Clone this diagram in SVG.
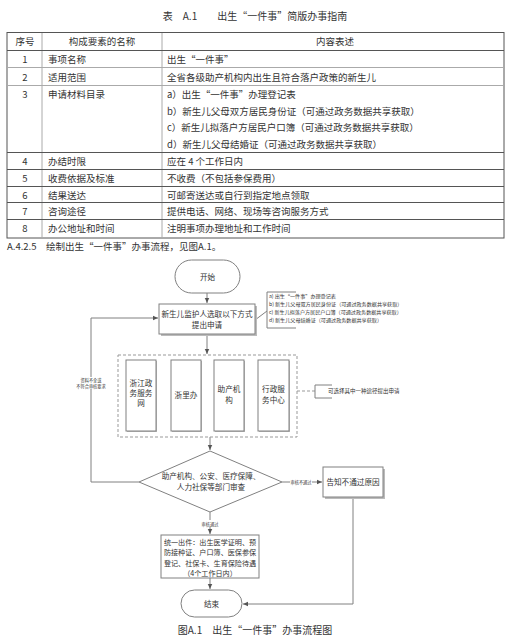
<svg xmlns="http://www.w3.org/2000/svg" width="509" height="637" viewBox="0 0 509 637">
<defs>
<marker id="arr" viewBox="0 0 10 10" refX="9" refY="5" markerWidth="6" markerHeight="6" orient="auto"><path d="M0,1 L9,5 L0,9 z" fill="#555"/></marker>
</defs>
<style>
text{font-family:"Noto Sans CJK SC","Liberation Sans",sans-serif;fill:#333;}
.t{font-size:9.5px;}
.c{text-anchor:middle;}
.tl{stroke:#555;stroke-width:1;fill:none;}
.tg{stroke:#aaa;stroke-width:1;fill:none;}
.box{fill:#fff;stroke:#808080;stroke-width:1;}
.sh{fill:#bbb;}
.ln{stroke:#808080;stroke-width:1;fill:none;}
.dash{stroke:#999;stroke-width:1;fill:none;stroke-dasharray:3,2;}
.n{font-size:7.6px;}
.s{font-size:7.1px;}
.tiny{font-size:5.1px;}
.lb{font-size:4.2px;}
</style>
<rect width="509" height="637" fill="#fff"/>
<g id="table">
<text x="255" y="20" class="c" style="font-size:10px" xml:space="preserve">表　A.1　　出生“一件事”简版办事指南</text>
<rect x="7" y="32.5" width="497" height="205.5" class="tl" stroke-width="1.5"/>
<line x1="42" y1="33" x2="42" y2="238" class="tg" stroke-width="1.5"/>
<line x1="162" y1="33" x2="162" y2="238" class="tg" stroke-width="1.5"/>
<line x1="7" y1="50.5" x2="504" y2="50.5" class="tl" stroke-width="1.5"/>
<line x1="7" y1="67.5" x2="504" y2="67.5" class="tg"/>
<line x1="7" y1="85.5" x2="504" y2="85.5" class="tg"/>
<line x1="7" y1="152.5" x2="504" y2="152.5" class="tl"/>
<line x1="7" y1="169.5" x2="504" y2="169.5" class="tl"/>
<line x1="7" y1="186.5" x2="504" y2="186.5" class="tl"/>
<line x1="7" y1="202.5" x2="504" y2="202.5" class="tl"/>
<line x1="7" y1="219.5" x2="504" y2="219.5" class="tl"/>
<text x="25" y="45" class="t c">序号</text>
<text x="102" y="45" class="t c">构成要素的名称</text>
<text x="335" y="45" class="t c">内容表述</text>
<text x="25" y="63" class="t c">1</text><text x="48" y="63" class="t">事项名称</text><text x="167" y="63" class="t">出生“一件事”</text>
<text x="25" y="81" class="t c">2</text><text x="48" y="81" class="t">适用范围</text><text x="167" y="81" class="t">全省各级助产机构内出生且符合落户政策的新生儿</text>
<text x="25" y="98" class="t c">3</text><text x="48" y="98" class="t">申请材料目录</text>
<text x="167" y="98" class="t">a）出生“一件事”办理登记表</text>
<text x="167" y="114.5" class="t">b）新生儿父母双方居民身份证（可通过政务数据共享获取）</text>
<text x="167" y="131" class="t">c）新生儿拟落户方居民户口簿（可通过政务数据共享获取）</text>
<text x="167" y="147.5" class="t">d）新生儿父母结婚证（可通过政务数据共享获取）</text>
<text x="25" y="165" class="t c">4</text><text x="48" y="165" class="t">办结时限</text><text x="167" y="165" class="t">应在 4 个工作日内</text>
<text x="25" y="182" class="t c">5</text><text x="48" y="182" class="t">收费依据及标准</text><text x="167" y="182" class="t">不收费（不包括参保费用）</text>
<text x="25" y="198.5" class="t c">6</text><text x="48" y="198.5" class="t">结果送达</text><text x="167" y="198.5" class="t">可邮寄送达或自行到指定地点领取</text>
<text x="25" y="215" class="t c">7</text><text x="48" y="215" class="t">咨询途径</text><text x="167" y="215" class="t">提供电话、网络、现场等咨询服务方式</text>
<text x="25" y="232" class="t c">8</text><text x="48" y="232" class="t">办公地址和时间</text><text x="167" y="232" class="t">注明事项办理地址和工作时间</text>
</g>
<text x="7" y="250" class="t" xml:space="preserve">A.4.2.5　绘制出生“一件事”办事流程，见图A.1。</text>
<g id="connectors">
<line x1="207" y1="293" x2="207" y2="303" class="ln" marker-end="url(#arr)"/>
<line x1="207" y1="334" x2="207" y2="354" class="ln" marker-end="url(#arr)"/>
<line x1="210" y1="437" x2="210" y2="450" class="ln" marker-end="url(#arr)"/>
<polyline points="139,482 91,482 91,318 158,318" class="ln" marker-end="url(#arr)"/>
<line x1="282" y1="482" x2="322" y2="482" class="ln" marker-end="url(#arr)"/>
<line x1="210" y1="512" x2="210" y2="534" class="ln" marker-end="url(#arr)"/>
<line x1="210" y1="578" x2="210" y2="589" class="ln" marker-end="url(#arr)"/>
<polyline points="353,497 353,604 243,604" class="ln" marker-end="url(#arr)"/>
<line x1="255" y1="320" x2="267" y2="311" class="ln"/>
<line x1="297" y1="391" x2="315" y2="391" class="dash"/>
<rect x="72" y="377" width="40" height="12" fill="#fff"/>
<text x="91" y="382" class="lb c">资料不全或</text>
<text x="91" y="387.5" class="lb c">不符合审核要求</text>
<rect x="290" y="478" width="22" height="7" fill="#fff"/>
<text x="301" y="483.5" class="lb c">审核不通过</text>
<rect x="200" y="520" width="20" height="7" fill="#fff"/>
<text x="210" y="525.5" class="lb c">审核通过</text>
</g>
<g id="start">
<rect x="175" y="260" width="65" height="33" rx="16.5" class="box"/>
<text x="207.5" y="279.5" class="n c">开始</text>
</g>
<g id="apply">
<rect x="161" y="306" width="96" height="30" class="sh"/>
<rect x="159" y="304" width="96" height="30" class="box"/>
<text x="207" y="317" class="n c">新生儿监护人选取以下方式</text>
<text x="207" y="328" class="n c">提出申请</text>
</g>
<g id="materials">
<path d="M296,292 L267,292 L267,328 L296,328" class="ln" stroke="#999" stroke-width="1.2"/>
<text x="269" y="298" class="tiny">a) 出生“一件事”办理登记表</text>
<text x="269" y="306" class="tiny">b) 新生儿父母双方居民身份证（可通过政务数据共享获取）</text>
<text x="269" y="314" class="tiny">c) 新生儿拟落户方居民户口簿（可通过政务数据共享获取）</text>
<text x="269" y="322" class="tiny">d) 新生儿父母结婚证（可通过政务数据共享获取）</text>
</g>
<g id="channels">
<rect x="118" y="355" width="179" height="82" class="dash"/>
<g id="zjzwfw">
<rect x="127" y="361" width="30" height="71" class="sh"/>
<rect x="126" y="360" width="30" height="71" class="box"/>
<text x="141" y="386" class="n c">浙江政</text><text x="141" y="396" class="n c">务服务</text><text x="141" y="406" class="n c">网</text>
</g>
<g id="zlb">
<rect x="172" y="361" width="30" height="71" class="sh"/>
<rect x="171" y="360" width="30" height="71" class="box"/>
<text x="186" y="398" class="n c">浙里办</text>
</g>
<g id="hospital">
<rect x="215" y="361" width="30" height="71" class="sh"/>
<rect x="214" y="360" width="30" height="71" class="box"/>
<text x="229" y="392" class="n c">助产机</text><text x="229" y="403" class="n c">构</text>
</g>
<g id="center">
<rect x="259" y="361" width="31" height="71" class="sh"/>
<rect x="258" y="360" width="31" height="71" class="box"/>
<text x="273.5" y="392" class="n c">行政服</text><text x="273.5" y="403" class="n c">务中心</text>
</g>
</g>
<g id="note">
<path d="M332,385 L315,385 L315,398 L332,398" class="ln" stroke="#999" stroke-width="1.2"/>
<text x="328" y="393" style="font-size:5.5px">可选择其中一种途径提出申请</text>
</g>
<g id="review">
<polygon points="210,451 282,482 210,512 139,482" class="box"/>
<text x="211" y="478.5" class="n c">助产机构、公安、医疗保障、</text>
<text x="211" y="490" class="n c">人力社保等部门审查</text>
</g>
<g id="reject">
<rect x="325" y="469" width="60" height="30" class="sh"/>
<rect x="323" y="467" width="60" height="30" class="box"/>
<text x="353" y="485" class="n c">告知不通过原因</text>
</g>
<g id="issue">
<rect x="161" y="535" width="98" height="43" class="box"/>
<text x="210" y="544.5" class="s c">统一出件：出生医学证明、预</text>
<text x="210" y="555" class="s c">防接种证、户口簿、医保参保</text>
<text x="210" y="565.5" class="s c">登记、社保卡、生育保险待遇</text>
<text x="210" y="575.5" class="s c">（4个工作日内）</text>
</g>
<g id="end">
<rect x="181" y="590" width="61" height="27" rx="13.5" class="box"/>
<text x="211.5" y="606.5" class="n c">结束</text>
</g>
<text x="255" y="634" class="c" style="font-size:10px" xml:space="preserve">图A.1　出生“一件事”办事流程图</text>
</svg>
